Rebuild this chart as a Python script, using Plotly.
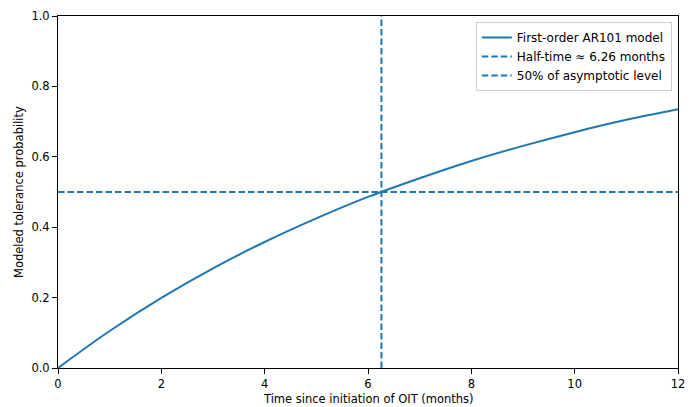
import plotly.graph_objects as go

# Values
t_months = [0, 1, 2, 3, 4, 5, 6, 7, 8, 9, 10, 11, 12]
probability = [0.0, 0.105, 0.199, 0.283, 0.358, 0.425, 0.486, 0.539, 0.588, 0.631, 0.670, 0.705, 0.735]
half_time = 6.26
half_level = 0.5
x_range = [0, 12]
y_range = [0, 1]
x_ticks = [0, 2, 4, 6, 8, 10, 12]
y_ticks = [0.0, 0.2, 0.4, 0.6, 0.8, 1.0]
x_title = "Time since initiation of OIT (months)"
y_title = "Modeled tolerance probability"

blue = "#1f77b4"
font = dict(family="DejaVu Sans", size=11.5, color="black")
legend_font = dict(family="DejaVu Sans", size=12, color="black")

fig = go.Figure()
fig.add_trace(go.Scatter(x=t_months, y=probability, mode="lines",
                         line=dict(color=blue, width=2, shape="spline"),
                         name="First-order AR101 model"))
fig.add_trace(go.Scatter(x=[half_time, half_time], y=y_range, mode="lines",
                         line=dict(color=blue, width=2, dash="6.5px,3px"),
                         name="Half-time ≈ 6.26 months"))
fig.add_trace(go.Scatter(x=x_range, y=[half_level, half_level], mode="lines",
                         line=dict(color=blue, width=2, dash="6.5px,3px"),
                         name="50% of asymptotic level"))

axis_common = dict(showgrid=False, zeroline=False, showline=True, linecolor="black",
                   linewidth=1, mirror=True, ticks="outside", ticklen=5, tickwidth=1,
                   tickcolor="black", tickfont=font, automargin=False)
fig.update_xaxes(range=x_range, tickvals=x_ticks, ticktext=[str(v) for v in x_ticks],
                 **axis_common)
fig.update_yaxes(range=y_range, tickvals=y_ticks, ticktext=[f"{v:.1f}" for v in y_ticks],
                 **axis_common)

fig.add_annotation(text=x_title, xref="paper", yref="paper", x=0.5, y=0,
                   yshift=-31, xanchor="center", yanchor="middle", showarrow=False, font=font)
fig.add_annotation(text=y_title, xref="paper", yref="paper", x=0, y=0.5,
                   xshift=-39, xanchor="center", yanchor="middle", textangle=-90,
                   showarrow=False, font=font)

fig.update_layout(
    width=693, height=407,
    margin=dict(l=58, r=15, t=16, b=39),
    plot_bgcolor="white", paper_bgcolor="white",
    font=font,
    legend=dict(x=0.99, y=0.983, xanchor="right", yanchor="top",
                bgcolor="rgba(255,255,255,0.8)", bordercolor="#cccccc", borderwidth=1,
                font=legend_font, tracegroupgap=0, itemwidth=30),
    showlegend=True,
)

fig.write_html("out.html", config={"displayModeBar": False},
               post_script="document.body.style.margin='0';")
